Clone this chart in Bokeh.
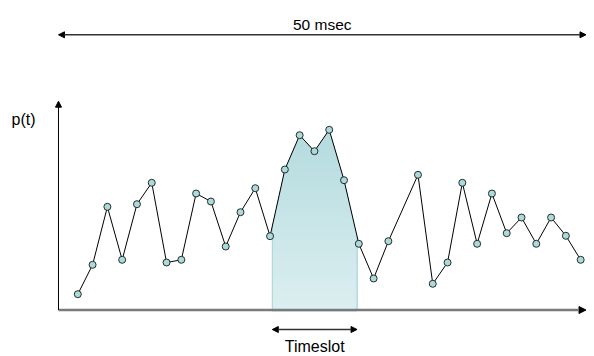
import numpy as np
from bokeh.plotting import figure
from bokeh.models import Arrow, NormalHead, Label
from bokeh.embed import file_html
from bokeh.resources import INLINE

# ---- data ----
t = [0, 1, 2, 3, 4, 5, 6, 7, 8, 9, 10, 11, 12, 13, 14, 15, 16, 17, 18, 19, 20, 21,
     23, 24, 25, 26, 27, 28, 29, 30, 31, 32, 33, 34]
p_t = [7.9, 22.6, 51.6, 25.1, 52.9, 63.6, 23.75, 25.1, 58.25, 54.25, 31.75, 48.9,
       60.9, 36.9, 70.25, 87.4, 79.4, 90.1, 64.9, 33.1, 15.75, 34.4,
       67.6, 13.1, 23.75, 63.6, 33.1, 58.25, 38.4, 46.25, 33.1, 46.25, 37.1, 25.1]
slot_start, slot_end = 13.15, 18.88
span_label = "50 msec"
slot_label = "Timeslot"
y_label = "p(t)"

# ---- layout constants ----
axis_x0 = -1.305
axis_x1 = 34.36
y_axis_top = 104.4
span_y = 137.6
slot_arrow_y = -9.75

W, H = 594, 356
x0 = -77.3 / 14.79
y0 = (309.5 - 356) / 2.0
p = figure(width=W, height=H, x_range=(x0, x0 + W / 14.79), y_range=(y0, y0 + H / 2.0),
           output_backend="svg", toolbar_location=None, min_border=0,
           x_axis_location=None, y_axis_location=None)
p.grid.visible = False
p.outline_line_color = None

# ---- gradient-filled timeslot area under the curve ----
tt = np.array(t, dtype=float)
pp = np.array(p_t, dtype=float)
xs = np.linspace(slot_start, slot_end, 400)
inner = tt[(tt > slot_start) & (tt < slot_end)]
xs = np.unique(np.concatenate([xs, inner]))
ys = np.interp(xs, tt, pp)
top_c = np.array([0xb4, 0xdb, 0xdf])
bot_c = np.array([0xdc, 0xef, 0xf1])
ymax = ys.max()
levels = np.linspace(ymax, 0, 45)
for lv in levels:
    f = lv / ymax
    c = (bot_c + (top_c - bot_c) * f).astype(int)
    col = "#%02x%02x%02x" % tuple(c)
    p.varea(x=xs, y1=np.zeros_like(xs) - 0.6, y2=np.minimum(ys, lv + 1.5),
            fill_color=col, fill_alpha=1.0)
p.segment(x0=[slot_start, slot_end], y0=[0, 0], x1=[slot_start, slot_end],
          y1=[float(np.interp(slot_start, tt, pp)), float(np.interp(slot_end, tt, pp))],
          line_color="#a8d5d9", line_width=1)

# ---- axes (arrows) ----
p.add_layout(Arrow(x_start=axis_x0, y_start=0, x_end=axis_x1, y_end=0,
                   line_color="#7a7a7a", line_width=2.5,
                   end=NormalHead(size=7, fill_color="black", line_color="black", line_width=1)))
p.add_layout(Arrow(x_start=axis_x0, y_start=0, x_end=axis_x0, y_end=y_axis_top,
                   line_color="black", line_width=1,
                   end=NormalHead(size=6, fill_color="black", line_color="black", line_width=1)))

# ---- series ----
p.line(t, p_t, line_color="black", line_width=1)
p.scatter(t, p_t, size=7, fill_color="#a9dbdb", line_color="#2a2a2a", line_width=1)

# ---- span arrow ----
p.add_layout(Arrow(x_start=axis_x0, y_start=span_y, x_end=axis_x1, y_end=span_y,
                   line_color="#333333", line_width=1.5,
                   start=NormalHead(size=6, fill_color="black", line_color="black", line_width=1),
                   end=NormalHead(size=6, fill_color="black", line_color="black", line_width=1)))
p.add_layout(Label(x=(axis_x0 + axis_x1) / 2, y=147.0, text=span_label,
                   text_align="center", text_baseline="top",
                   text_font="Liberation Sans", text_font_size="15.5px", text_color="black"))

# ---- timeslot arrow ----
p.add_layout(Arrow(x_start=slot_start, y_start=slot_arrow_y, x_end=slot_end, y_end=slot_arrow_y,
                   line_color="#333333", line_width=1.5,
                   start=NormalHead(size=6, fill_color="black", line_color="black", line_width=1),
                   end=NormalHead(size=6, fill_color="black", line_color="black", line_width=1)))
p.add_layout(Label(x=(slot_start + slot_end) / 2, y=y0 + 0.8, text=slot_label,
                   text_align="center", text_baseline="bottom",
                   text_font="Liberation Sans", text_font_size="16px", text_color="black"))

# ---- y label ----
p.add_layout(Label(x=-4.483, y=99.5, text=y_label, text_align="left",
                   text_baseline="top", text_font="Liberation Sans",
                   text_font_size="16px", text_color="black"))

open("out.html", "w").write(file_html(p, INLINE))
